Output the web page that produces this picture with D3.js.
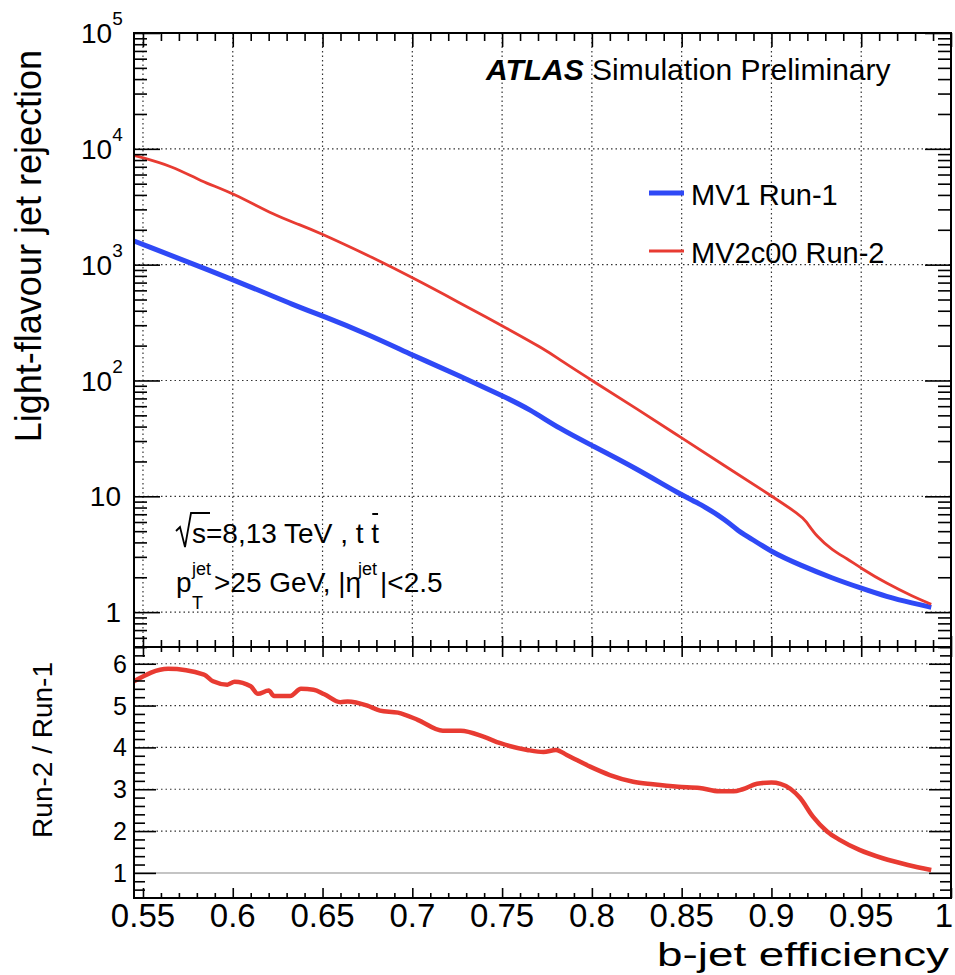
<!DOCTYPE html>
<html>
<head>
<meta charset="utf-8">
<script src="https://cdn.jsdelivr.net/npm/d3@7"></script>
<style>
body { margin: 0; background: #fff; }
text { font-family: "Liberation Sans", Arial, Helvetica, sans-serif; fill: #000; }
</style>
</head>
<body>
<div id="chart"></div>
<script>
// MV1 Run-1 (blue) light-flavour rejection vs b-jet efficiency
var effRun1 = [0.545, 0.600, 0.637, 0.650, 0.675, 0.700, 0.726, 0.750, 0.765, 0.782, 0.800, 0.825,
               0.850, 0.860, 0.875, 0.882, 0.886, 0.900, 0.916, 0.934, 0.950, 0.964, 0.979, 0.989];
var rejRun1 = [1600, 748, 428, 362, 252, 166, 110, 74, 57, 38.3, 27.5, 17.3,
               10.2, 8.67, 6.2, 4.94, 4.6, 3.3, 2.55, 1.96, 1.61, 1.36, 1.19, 1.10];

// MV2c00 Run-2 (red)
var effRun2 = [0.545, 0.567, 0.582, 0.600, 0.624, 0.637, 0.650, 0.662, 0.676, 0.700, 0.726, 0.750,
               0.775, 0.782, 0.800, 0.825, 0.850, 0.875, 0.900, 0.916, 0.919, 0.925, 0.934,
               0.942, 0.950, 0.964, 0.979, 0.989];
var rejRun2 = [8790, 7070, 5250, 4170, 2625, 2228, 1828, 1500, 1189, 774, 472, 297,
               181, 151, 100, 57, 31.9, 17.9, 10.1, 6.87, 6.2, 4.5, 3.43,
               2.9, 2.39, 1.77, 1.36, 1.17];

// Run-2 / Run-1 ratio
var effRatio = [0.545, 0.564, 0.584, 0.589, 0.597, 0.601, 0.610, 0.614, 0.620, 0.623, 0.632, 0.638,
                0.645, 0.651, 0.660, 0.664, 0.675, 0.682, 0.692, 0.703, 0.717, 0.727, 0.740, 0.749,
                0.764, 0.773, 0.780, 0.786, 0.799, 0.810, 0.823, 0.834, 0.848, 0.860, 0.871, 0.879,
                0.884, 0.892, 0.900, 0.905, 0.916, 0.923, 0.931, 0.938, 0.949, 0.962, 0.976, 0.989];
var ratio = [5.58, 5.88, 5.74, 5.58, 5.50, 5.57, 5.46, 5.28, 5.36, 5.23, 5.23, 5.40,
             5.38, 5.27, 5.08, 5.10, 5.00, 4.88, 4.83, 4.66, 4.40, 4.40, 4.25, 4.10,
             3.94, 3.89, 3.94, 3.82, 3.54, 3.34, 3.18, 3.12, 3.06, 3.03, 2.95, 2.95,
             3.00, 3.13, 3.16, 3.13, 2.79, 2.35, 1.99, 1.79, 1.55, 1.35, 1.19, 1.07];

var xTicks = [0.55, 0.6, 0.65, 0.7, 0.75, 0.8, 0.85, 0.9, 0.95, 1];
var xTickLabels = ["0.55", "0.6", "0.65", "0.7", "0.75", "0.8", "0.85", "0.9", "0.95", "1"];
var topTicks = [1, 10, 100, 1000, 10000, 100000];
var topBase = ["1", "10", "10", "10", "10", "10"];
var topExp = ["", "", "2", "3", "4", "5"];
var ratioTicks = [1, 2, 3, 4, 5, 6];
var seriesNames = ["MV1 Run-1", "MV2c00 Run-2"];
var seriesColors = ["#2f49f6", "#e83b32"];

var W = 955, H = 975;
var left = 134, right = 951;
var topY0 = 33, topY1 = 647, botY1 = 898;

var svg = d3.select('#chart').append('svg')
    .attr('width', W).attr('height', H);

var x = d3.scaleLinear().domain([0.545, 1.0]).range([left, right]);
var yTop = d3.scaleLog().domain([0.5, 1e5]).range([topY1, topY0]);
var yBot = d3.scaleLinear().domain([0.4, 6.4]).range([botY1, topY1]);

// tick positions
var logMinor = [];
for (var k = -1; k <= 4; k++) {
    for (var m = 2; m <= 9; m++) {
        var v = m * Math.pow(10, k);
        if (v >= 0.5 && v <= 1e5) logMinor.push(v);
    }
}
var xMinor = d3.range(55, 101).map(function(d) { return d / 100; })
    .filter(function(d) { return Math.round(d * 100) % 5 !== 0; });
var ratioMinor = d3.range(3, 33).map(function(d) { return d / 5; })
    .filter(function(d) { return d >= 0.4 && d <= 6.4 && Math.round(d * 5) % 5 !== 0; });

function tickSet(axisFn, scale, values, size, tr) {
    svg.append('g')
        .attr('transform', tr)
        .call(axisFn(scale).tickValues(values).tickSize(size).tickFormat(''))
        .call(function(g) { g.select('.domain').remove(); })
        .selectAll('line').attr('stroke', '#000').attr('stroke-width', 1.6);
}

var dot = '1.5,3';

// ---- upper grid ----
var grid = svg.append('g').attr('stroke', '#333').attr('stroke-width', 1.2).attr('stroke-dasharray', dot);
grid.selectAll('.vx').data(xTicks.slice(0, -1)).enter().append('line')
    .attr('x1', function(d) { return x(d); }).attr('x2', function(d) { return x(d); })
    .attr('y1', topY0).attr('y2', topY1);
grid.selectAll('.hy').data(topTicks.slice(0, -1)).enter().append('line')
    .attr('x1', left).attr('x2', right)
    .attr('y1', function(d) { return yTop(d); }).attr('y2', function(d) { return yTop(d); });
// ---- lower grid ----
grid.selectAll('.hr').data(ratioTicks.slice(1)).enter().append('line')
    .attr('x1', left).attr('x2', right)
    .attr('y1', function(d) { return yBot(d); }).attr('y2', function(d) { return yBot(d); });
svg.append('line')
    .attr('x1', left).attr('x2', right)
    .attr('y1', yBot(1)).attr('y2', yBot(1))
    .attr('stroke', '#c4c4c4').attr('stroke-width', 2);

// ---- curves ----
var lineTop = d3.line()
    .x(function(d) { return x(d[0]); })
    .y(function(d) { return yTop(d[1]); })
    .curve(d3.curveBasis);
svg.append('path')
    .datum(d3.zip(effRun1, rejRun1))
    .attr('d', lineTop)
    .attr('fill', 'none').attr('stroke', seriesColors[0]).attr('stroke-width', 5);
svg.append('path')
    .datum(d3.zip(effRun2, rejRun2))
    .attr('d', lineTop)
    .attr('fill', 'none').attr('stroke', seriesColors[1]).attr('stroke-width', 2.8);

var lineBot = d3.line()
    .x(function(d) { return x(d[0]); })
    .y(function(d) { return yBot(d[1]); })
    .curve(d3.curveMonotoneX);
svg.append('path')
    .datum(d3.zip(effRatio, ratio))
    .attr('d', lineBot)
    .attr('fill', 'none').attr('stroke', seriesColors[1]).attr('stroke-width', 4.5);

// ---- ticks ----
// upper panel
tickSet(d3.axisRight, yTop, topTicks, 26, 'translate(' + left + ',0)');
tickSet(d3.axisRight, yTop, logMinor, 13, 'translate(' + left + ',0)');
tickSet(d3.axisLeft, yTop, topTicks, 26, 'translate(' + right + ',0)');
tickSet(d3.axisLeft, yTop, logMinor, 13, 'translate(' + right + ',0)');
tickSet(d3.axisBottom, x, xTicks, 14, 'translate(0,' + topY0 + ')');
tickSet(d3.axisBottom, x, xMinor, 8, 'translate(0,' + topY0 + ')');
tickSet(d3.axisTop, x, xTicks, 11, 'translate(0,' + topY1 + ')');
tickSet(d3.axisTop, x, xMinor, 7, 'translate(0,' + topY1 + ')');
// lower panel
tickSet(d3.axisBottom, x, xTicks, 10, 'translate(0,' + topY1 + ')');
tickSet(d3.axisBottom, x, xMinor, 5, 'translate(0,' + topY1 + ')');
tickSet(d3.axisTop, x, xTicks, 10, 'translate(0,' + botY1 + ')');
tickSet(d3.axisTop, x, xMinor, 5, 'translate(0,' + botY1 + ')');
tickSet(d3.axisRight, yBot, ratioTicks, 22, 'translate(' + left + ',0)');
tickSet(d3.axisRight, yBot, ratioMinor, 11, 'translate(' + left + ',0)');
tickSet(d3.axisLeft, yBot, ratioTicks, 22, 'translate(' + right + ',0)');
tickSet(d3.axisLeft, yBot, ratioMinor, 11, 'translate(' + right + ',0)');

// frames
svg.append('rect').attr('x', left).attr('y', topY0)
    .attr('width', right - left).attr('height', topY1 - topY0)
    .attr('fill', 'none').attr('stroke', '#000').attr('stroke-width', 2);
svg.append('rect').attr('x', left).attr('y', topY1)
    .attr('width', right - left).attr('height', botY1 - topY1)
    .attr('fill', 'none').attr('stroke', '#000').attr('stroke-width', 2);

// ---- tick labels ----
topTicks.forEach(function(t, i) {
    var tx = svg.append('text')
        .attr('y', yTop(t)).attr('dy', '0.36em')
        .attr('font-size', 28);
    if (topExp[i] === '') {
        tx.attr('x', 121).attr('text-anchor', 'end').text(topBase[i]);
    } else {
        tx.attr('x', 81).text(topBase[i]);
        tx.append('tspan').attr('font-size', 19).attr('dy', '-0.95em').text(topExp[i]);
    }
});
ratioTicks.forEach(function(t) {
    svg.append('text')
        .attr('x', 127).attr('y', yBot(t)).attr('dy', '0.36em')
        .attr('text-anchor', 'end').attr('font-size', 25)
        .text(t);
});
xTicks.forEach(function(t, i) {
    svg.append('text')
        .attr('x', Math.min(x(t), 944)).attr('y', 927)
        .attr('text-anchor', 'middle').attr('font-size', 33)
        .text(xTickLabels[i]);
});

// ---- axis titles ----
svg.append('text')
    .attr('transform', 'translate(41,50) rotate(-90)')
    .attr('text-anchor', 'end').attr('font-size', 36)
    .text('Light-flavour jet rejection');
svg.append('text')
    .attr('transform', 'translate(52,662) rotate(-90)')
    .attr('text-anchor', 'end').attr('font-size', 28)
    .text('Run-2 / Run-1');
svg.append('text')
    .attr('x', 657).attr('y', 966)
    .attr('font-size', 34)
    .attr('textLength', 292).attr('lengthAdjust', 'spacingAndGlyphs')
    .text('b-jet efficiency');

// ---- ATLAS label ----
var atl = svg.append('text').attr('x', 486).attr('y', 80).attr('font-size', 30);
atl.append('tspan').attr('font-weight', 'bold').attr('font-style', 'italic').text('ATLAS');
atl.append('tspan').text(' Simulation Preliminary');

// ---- legend ----
seriesNames.forEach(function(name, i) {
    var ly = 193 + i * 58;
    svg.append('line')
        .attr('x1', 649).attr('x2', 684).attr('y1', ly).attr('y2', ly)
        .attr('stroke', seriesColors[i]).attr('stroke-width', i === 0 ? 5 : 3);
    svg.append('text')
        .attr('x', 691).attr('y', ly + 12).attr('font-size', 29)
        .text(name);
});

// ---- conditions ----
svg.append('path')
    .attr('d', 'M176,531 L180,527 L185,547 L191,513 L210,513')
    .attr('fill', 'none').attr('stroke', '#000').attr('stroke-width', 1.8);
var cond = svg.append('text').attr('x', 192).attr('y', 543).attr('font-size', 28)
    .text('s=8,13 TeV , t t');
var n = cond.text().length;
var tb = cond.node().getStartPositionOfChar(n - 1).x;
var te = cond.node().getEndPositionOfChar(n - 1).x;
svg.append('line').attr('x1', tb + 1).attr('x2', te - 1).attr('y1', 514).attr('y2', 514)
    .attr('stroke', '#000').attr('stroke-width', 2);

svg.append('text').attr('x', 176).attr('y', 592).attr('font-size', 28).text('p');
svg.append('text').attr('x', 192).attr('y', 609).attr('font-size', 18).text('T');
svg.append('text').attr('x', 192).attr('y', 575).attr('font-size', 18).text('jet');
svg.append('text').attr('x', 214).attr('y', 592).attr('font-size', 28).text('>25 GeV, |\u03b7');
svg.append('text').attr('x', 358).attr('y', 575).attr('font-size', 18).text('jet');
svg.append('text').attr('x', 380).attr('y', 592).attr('font-size', 28).text('|<2.5');
</script>
</body>
</html>
